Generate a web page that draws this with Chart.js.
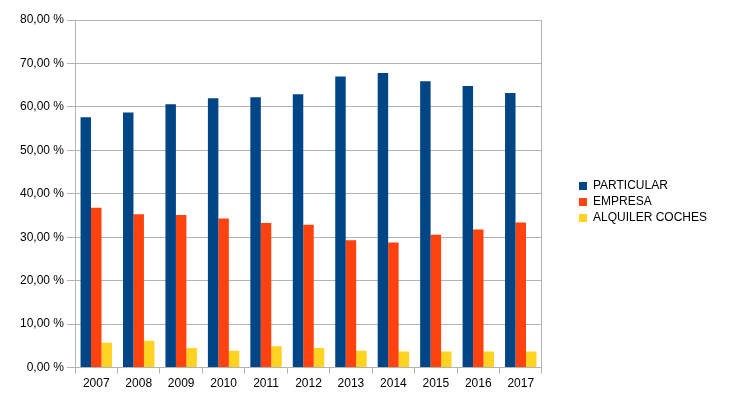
<!DOCTYPE html>
<html>
<head>
<meta charset="utf-8">
<script src="https://cdn.jsdelivr.net/npm/chart.js@4/dist/chart.umd.min.js"></script>
<style>
html,body{margin:0;padding:0;background:#fff;}
#wrap{width:730px;height:396px;position:relative;}
</style>
</head>
<body>
<div id="wrap"><canvas id="c" width="730" height="396"></canvas></div>
<script>
const categories = ['2007','2008','2009','2010','2011','2012','2013','2014','2015','2016','2017'];
const particular = [57.6, 58.7, 60.6, 62.0, 62.2, 62.9, 67.0, 67.8, 65.9, 64.8, 63.2];
const empresa = [36.8, 35.3, 35.1, 34.3, 33.3, 32.9, 29.3, 28.8, 30.6, 31.8, 33.4];
const alquiler = [5.7, 6.2, 4.5, 3.9, 4.9, 4.5, 3.9, 3.7, 3.7, 3.7, 3.7];
const seriesNames = ['PARTICULAR', 'EMPRESA', 'ALQUILER COCHES'];
const colors = ['#004586', '#ff420e', '#ffd320'];

Chart.defaults.font.family = '"Liberation Sans", Arial, sans-serif';
Chart.defaults.font.size = 12;
Chart.defaults.color = '#000';

const grey = '#b3b3b3';

const legendShift = {
  id: 'legendShift',
  afterLayout(chart) {
    if (chart.legend) { chart.legend.top -= 5; chart.legend.bottom -= 5; }
  }
};

new Chart(document.getElementById('c'), {
  type: 'bar',
  data: {
    labels: categories,
    datasets: [particular, empresa, alquiler].map((d, i) => ({
      label: seriesNames[i],
      data: d,
      backgroundColor: colors[i],
      borderWidth: 0,
      categoryPercentage: 0.74,
      barPercentage: 1.0
    }))
  },
  plugins: [legendShift],
  options: {
    responsive: false,
    animation: false,
    devicePixelRatio: 1,
    layout: { padding: { left: 17, right: 13, top: 20, bottom: 2 } },
    plugins: {
      tooltip: { enabled: false },
      legend: {
        position: 'right',
        align: 'center',
        maxWidth: 220,
        labels: {
          boxWidth: 8,
          boxHeight: 8,
          padding: 4,
          color: '#000',
          font: { size: 12 }
        }
      }
    },
    scales: {
      x: {
        offset: true,
        grid: { display: true, offset: true, drawOnChartArea: false, color: grey, tickLength: 6 },
        border: { display: true, color: grey },
        ticks: { padding: 3, color: '#000' }
      },
      y: {
        min: 0,
        max: 80,
        ticks: {
          stepSize: 10,
          padding: 3,
          color: '#000',
          callback: v => v.toFixed(2).replace('.', ',') + ' %'
        },
        grid: { color: grey, tickLength: 8 },
        border: { display: true, color: grey }
      },
      yr: {
        position: 'right',
        display: true,
        min: 0, max: 1,
        grid: { display: false },
        ticks: { display: false },
        border: { display: true, color: grey },
        afterFit: s => { s.width = 33; }
      }
    }
  }
});
</script>
</body>
</html>
